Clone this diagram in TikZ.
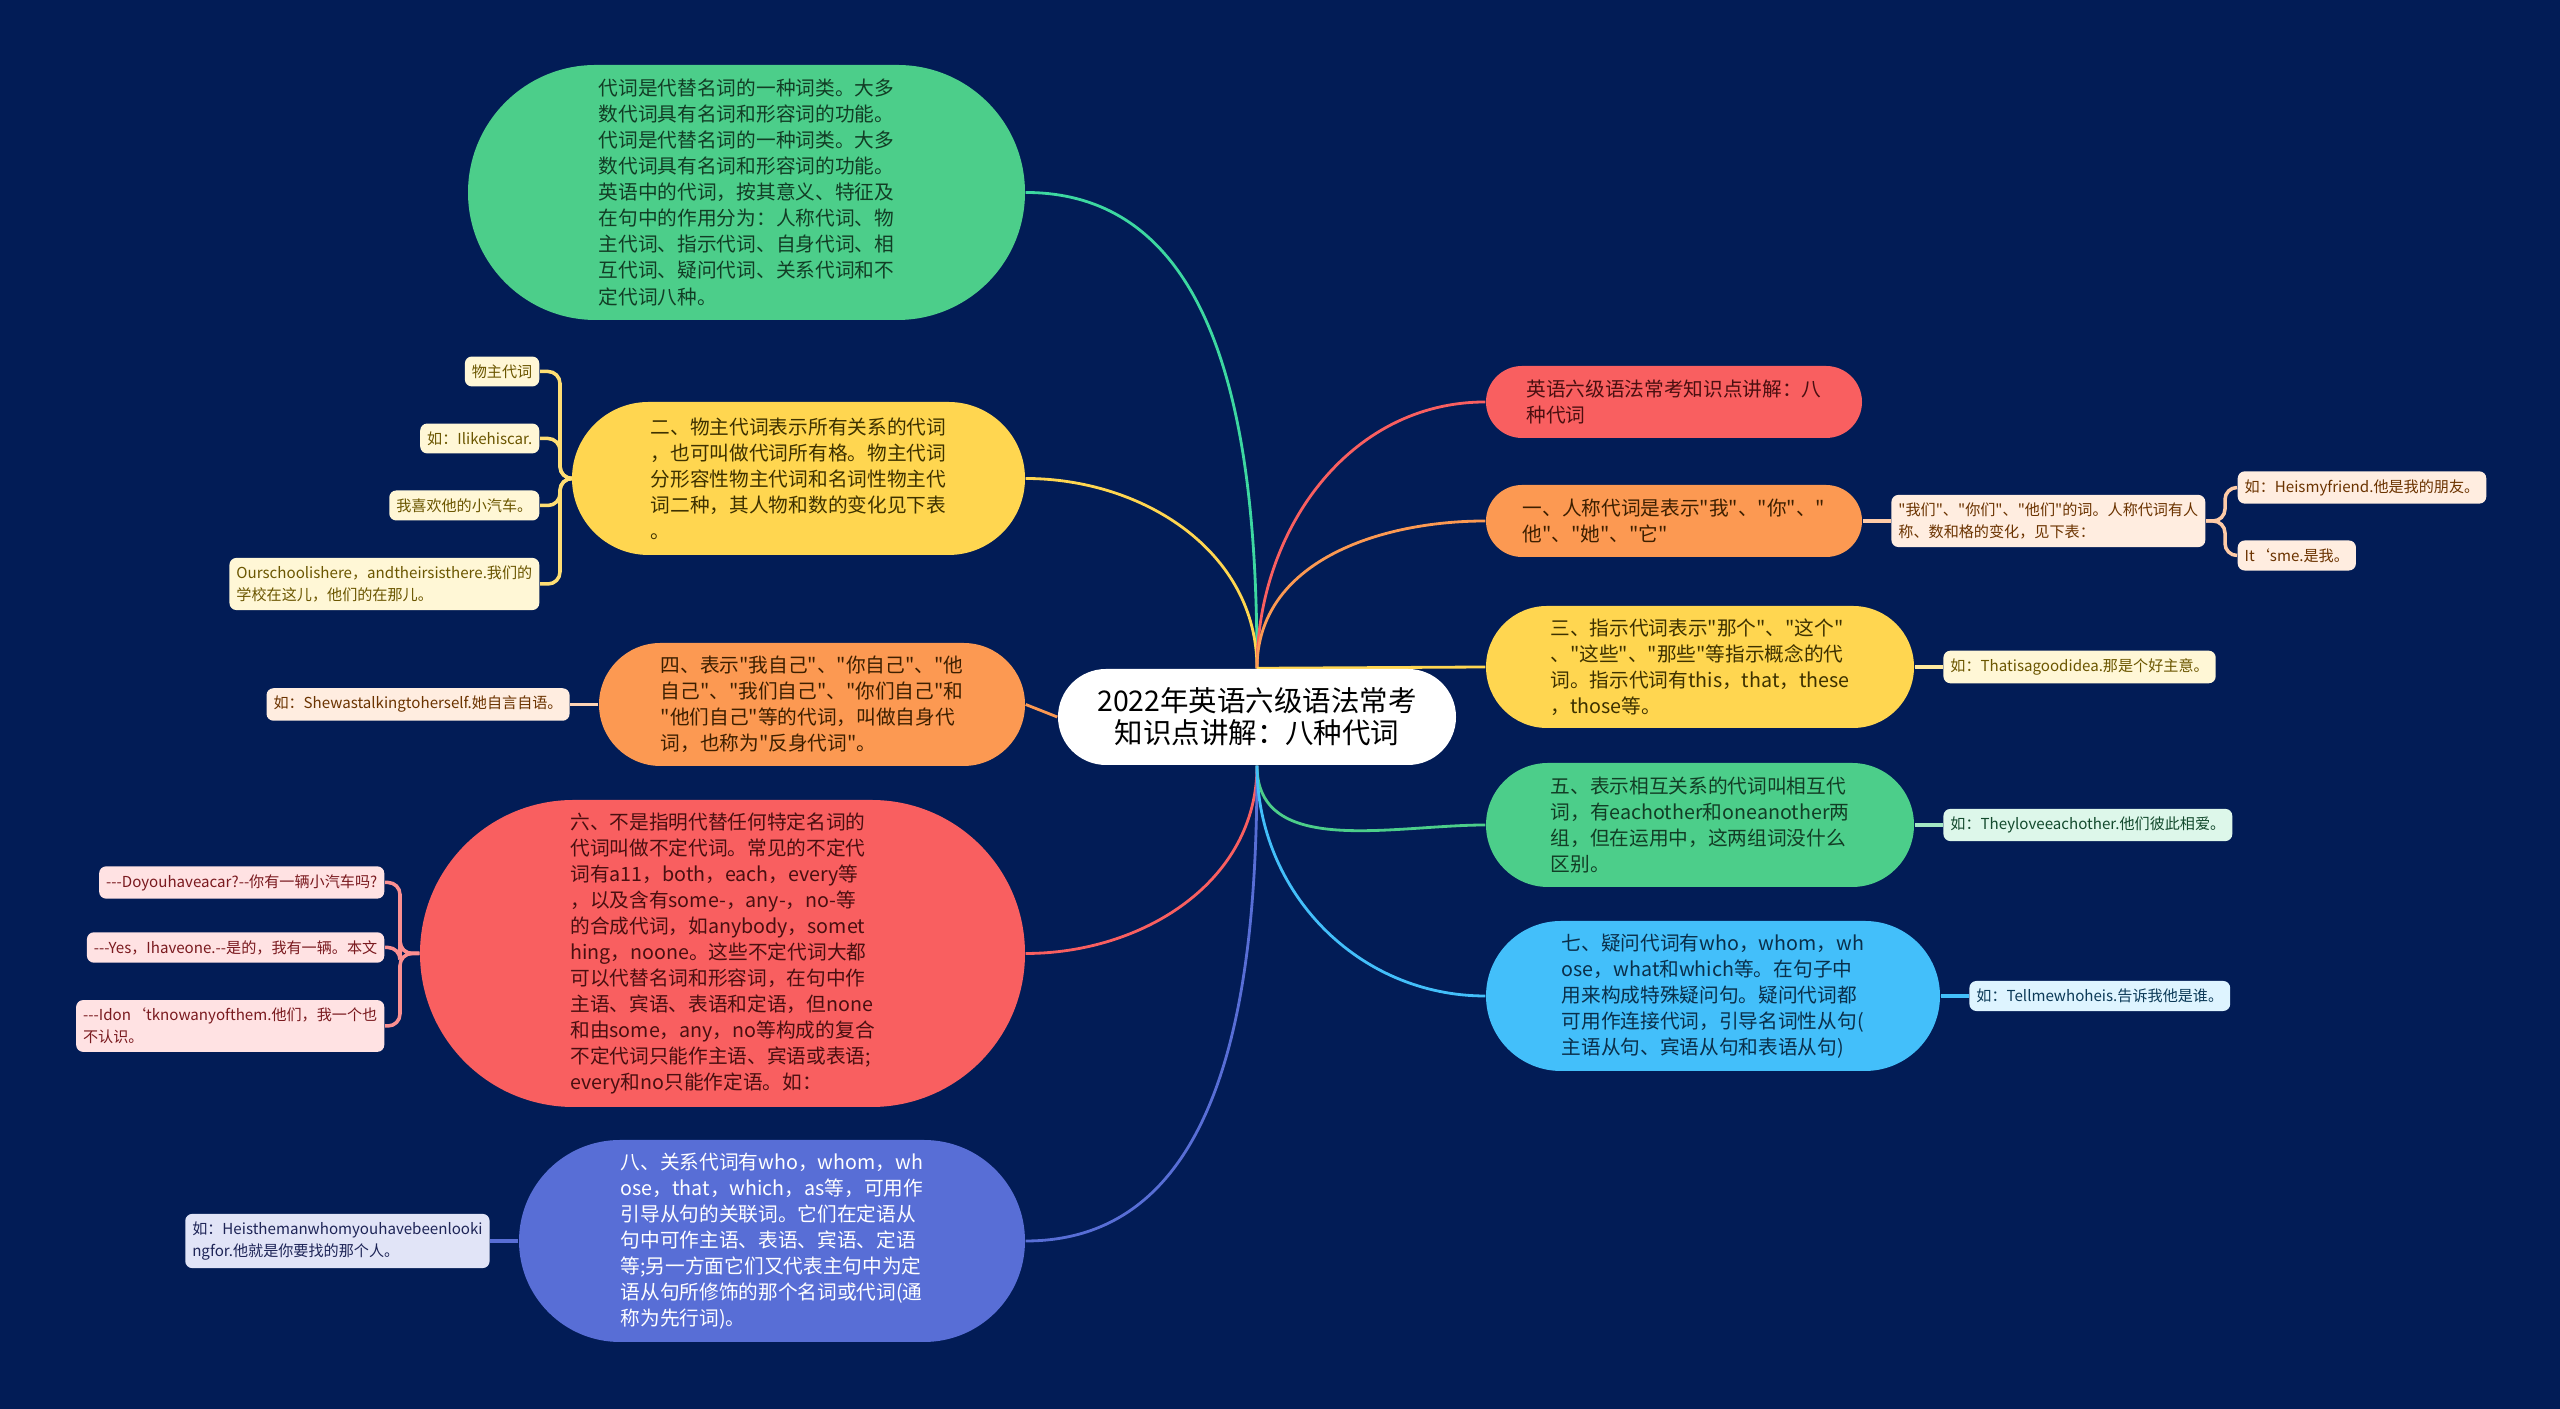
\documentclass[tikz,border=0pt]{standalone}
\usepackage{fontspec}
\setmainfont{Noto Sans CJK SC}[Ligatures=TeXOff]
\usepackage{tikz}
\usetikzlibrary{shapes.misc, positioning, backgrounds}

\definecolor{navy}{HTML}{021C56}
\definecolor{cgreen}{HTML}{4CCE8A}
\definecolor{cyellow}{HTML}{FFD650}
\definecolor{corange}{HTML}{FC9952}
\definecolor{cred}{HTML}{F95F60}
\definecolor{csky}{HTML}{43BFFA}
\definecolor{cblue}{HTML}{586ED6}
% leaf tints and text
\definecolor{lgreen}{HTML}{DDF7EA}
\definecolor{lyellow}{HTML}{FFF7D6}
\definecolor{lorange}{HTML}{FFEDE0}
\definecolor{lred}{HTML}{FFE2E3}
\definecolor{lsky}{HTML}{DEF4FF}
\definecolor{lblue}{HTML}{E1E4F7}
\definecolor{tgreen}{HTML}{123D25}
\definecolor{tyellow}{HTML}{3D3100}
\definecolor{torange}{HTML}{3D1F00}
\definecolor{tred}{HTML}{4A0F10}
\definecolor{tsky}{HTML}{0A2F4A}
\definecolor{kyellow}{HTML}{6B5600}
\definecolor{korange}{HTML}{6B3300}
\definecolor{kred}{HTML}{7A1A1F}
\definecolor{kgreen}{HTML}{134A2D}
\definecolor{ksky}{HTML}{0C3A58}
\definecolor{kblue}{HTML}{1E2557}

\begin{document}
\begin{tikzpicture}[
  topic/.style={rounded rectangle, inner sep=0pt, align=left, font=\fontsize{5.6}{7.4}\selectfont},
  leaf/.style={rounded corners=0.7mm, inner xsep=0.7mm, inner ysep=0.8mm, align=left, font=\fontsize{4.3}{6.2}\selectfont},
  link/.style={line width=0.8pt},
  twig/.style={line width=1pt, rounded corners=1.2mm},
  node distance=2.8mm
]
\useasboundingbox (0,0) rectangle (25.6,14.09);

% centre
\node[rounded rectangle, fill=white, minimum width=3.98cm, minimum height=0.96cm, inner sep=0pt, align=center, font=\fontsize{8.1}{9.1}\selectfont] (root) at (12.57,6.92) {2022年英语六级语法常考\\知识点讲解：八种代词};

% left branches
\node[topic, fill=cgreen, text=tgreen, minimum width=5.57cm, minimum height=2.55cm] (m0) at (7.465,12.165) {代词是代替名词的一种词类。大多\\数代词具有名词和形容词的功能。\\代词是代替名词的一种词类。大多\\数代词具有名词和形容词的功能。\\英语中的代词，按其意义、特征及\\在句中的作用分为：人称代词、物\\主代词、指示代词、自身代词、相\\互代词、疑问代词、关系代词和不\\定代词八种。};
\node[topic, fill=cyellow, text=tyellow, minimum width=4.53cm, minimum height=1.53cm] (m6) at (7.985,9.305) {二、物主代词表示所有关系的代词\\，也可叫做代词所有格。物主代词\\分形容性物主代词和名词性物主代\\词二种，其人物和数的变化见下表\\。};
\node[topic, fill=corange, text=torange, minimum width=4.26cm, minimum height=1.23cm] (m7) at (8.12,7.045) {四、表示"我自己"、"你自己"、"他\\自己"、"我们自己"、"你们自己"和\\"他们自己"等的代词，叫做自身代\\词，也称为"反身代词"。};
\node[topic, fill=cred, text=tred, minimum width=6.05cm, minimum height=3.07cm] (m8) at (7.225,4.555) {六、不是指明代替任何特定名词的\\代词叫做不定代词。常见的不定代\\词有a11，both，each，every等\\，以及含有some-，any-，no-等\\的合成代词，如anybody，somet\\hing，noone。这些不定代词大都\\可以代替名词和形容词，在句中作\\主语、宾语、表语和定语，但none\\和由some，any，no等构成的复合\\不定代词只能作主语、宾语或表语;\\every和no只能作定语。如：};
\node[topic, fill=cblue, text=white, minimum width=5.06cm, minimum height=2.02cm] (m9) at (7.72,1.68) {八、关系代词有who，whom，wh\\ose，that，which，as等，可用作\\引导从句的关联词。它们在定语从\\句中可作主语、表语、宾语、定语\\等;另一方面它们又代表主句中为定\\语从句所修饰的那个名词或代词(通\\称为先行词)。};

% right branches
\node[topic, fill=cred, text=tred, minimum width=3.76cm, minimum height=0.72cm] (m1) at (16.74,10.07) {英语六级语法常考知识点讲解：八\\种代词};
\node[topic, fill=corange, text=torange, minimum width=3.76cm, minimum height=0.72cm] (m2) at (16.74,8.88) {一、人称代词是表示"我"、"你"、"\\他"、"她"、"它"};
\node[topic, fill=cyellow, text=tyellow, minimum width=4.28cm, minimum height=1.22cm] (m3) at (17.00,7.42) {三、指示代词表示"那个"、"这个"\\、"这些"、"那些"等指示概念的代\\词。指示代词有this，that，these\\，those等。};
\node[topic, fill=cgreen, text=tgreen, minimum width=4.28cm, minimum height=1.24cm] (m4) at (17.00,5.84) {五、表示相互关系的代词叫相互代\\词，有eachother和oneanother两\\组，但在运用中，这两组词没什么\\区别。};
\node[topic, fill=csky, text=tsky, minimum width=4.54cm, minimum height=1.50cm] (m5) at (17.13,4.13) {七、疑问代词有who，whom，wh\\ose，what和which等。在句子中\\用来构成特殊疑问句。疑问代词都\\可用作连接代词，引导名词性从句(\\主语从句、宾语从句和表语从句)};

% leaves
\node[leaf, fill=lyellow, text=kyellow, anchor=east] (l61) at (5.40,10.375) {物主代词};
\node[leaf, fill=lyellow, text=kyellow, anchor=east] (l62) at (5.40,9.705) {如：Ilikehiscar.};
\node[leaf, fill=lyellow, text=kyellow, anchor=east] (l63) at (5.40,9.035) {我喜欢他的小汽车。};
\node[leaf, fill=lyellow, text=kyellow, anchor=east] (l64) at (5.40,8.25) {Ourschoolishere，andtheirsisthere.我们的\\学校在这儿，他们的在那儿。};
\node[leaf, fill=lorange, text=korange, left=of m7] (l71) {如：Shewastalkingtoherself.她自言自语。};
\node[leaf, fill=lred, text=kred, anchor=east] (l81) at (3.85,5.265) {-{}-{}-Doyouhaveacar?-{}-你有一辆小汽车吗?};
\node[leaf, fill=lred, text=kred, anchor=east] (l82) at (3.85,4.615) {-{}-{}-Yes，Ihaveone.-{}-是的，我有一辆。本文};
\node[leaf, fill=lred, text=kred, anchor=east] (l83) at (3.85,3.83) {-{}-{}-Idon‘tknowanyofthem.他们，我一个也\\不认识。};
\node[leaf, fill=lblue, text=kblue, left=of m9] (l91) {如：Heisthemanwhomyouhavebeenlooki\\ngfor.他就是你要找的那个人。};

\node[leaf, fill=lorange, text=korange, right=of m2] (l21) {"我们"、"你们"、"他们"的词。人称代词有人\\称、数和格的变化，见下表：};
\node[leaf, fill=lorange, text=korange, anchor=west] (l211) at (22.37,9.215) {如：Heismyfriend.他是我的朋友。};
\node[leaf, fill=lorange, text=korange, anchor=west] (l212) at (22.37,8.535) {It‘sme.是我。};
\node[leaf, fill=lyellow, text=kyellow, right=of m3] (l31) {如：Thatisagoodidea.那是个好主意。};
\node[leaf, fill=lgreen, text=kgreen, right=of m4] (l41) {如：Theyloveeachother.他们彼此相爱。};
\node[leaf, fill=lsky, text=ksky, right=of m5] (l51) {如：Tellmewhoheis.告诉我他是谁。};

\begin{scope}[on background layer]
  \fill[navy] (0,0) rectangle (25.6,14.09);
  % centre to branches
  \draw[link, cgreen!80!cyan] (root.north) to[out=90, in=0] (m0.east);
  \draw[link, cyellow] (root.north) to[out=90, in=0] (m6.east);
  \draw[link, corange] (root.west) -- (m7.east);
  \draw[link, cred] (root.south) to[out=-90, in=0] (m8.east);
  \draw[link, cblue] (root.south) to[out=-90, in=0] (m9.east);
  \draw[link, cred] (root.north) to[out=90, in=180] (m1.west);
  \draw[link, corange] (root.north) to[out=90, in=180] (m2.west);
  \draw[link, cyellow] (root.north) -- (m3.west);
  \draw[link, cgreen] (root.south) to[out=-90, in=180] (m4.west);
  \draw[link, csky] (root.south) to[out=-90, in=180] (m5.west);
  % branches to leaves
  \foreach \l in {l61,l62,l63,l64}
    \draw[twig, cyellow!80!white] (m6.west) -| ([xshift=2mm]\l.east) -- (\l.east);
  \draw[twig, lorange!70!corange] (m7.west) -- (l71.east);
  \foreach \l in {l81,l82,l83}
    \draw[twig, cred!70!white] (m8.west) -| ([xshift=1.5mm]\l.east) -- (\l.east);
  \draw[twig, cblue] (m9.west) -- (l91.east);
  \draw[twig, lorange!60!corange] (m2.east) -- (l21.west);
  \foreach \l in {l211,l212}
    \draw[twig, lorange!60!corange] (l21.east) -| ([xshift=-1.2mm]\l.west) -- (\l.west);
  \draw[twig, lyellow!60!cyellow] (m3.east) -- (l31.west);
  \draw[twig, lgreen!60!cgreen] (m4.east) -- (l41.west);
  \draw[twig, csky] (m5.east) -- (l51.west);
\end{scope}
\end{tikzpicture}
\end{document}
